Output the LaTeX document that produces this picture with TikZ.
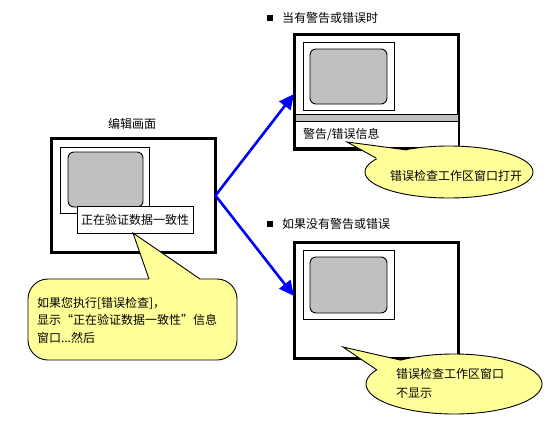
\documentclass[tikz,border=0pt]{standalone}
\usepackage{fontspec}
\usetikzlibrary{shapes.geometric,arrows.meta}
\newfontfamily\cjk{Noto Sans CJK SC}
\definecolor{callfill}{RGB}{255,255,153}
\definecolor{screengray}{RGB}{192,192,192}
\definecolor{arrowblue}{RGB}{0,0,255}
\begin{document}
\begin{tikzpicture}[x=1pt,y=-1pt,
  every node/.style={font=\cjk\fontsize{12}{17.5}\selectfont, inner sep=0pt, outer sep=0pt},
  thickbox/.style={draw, line width=2.4pt, fill=white, rectangle},
  thinbox/.style={draw, line width=0.9pt, fill=white, rectangle},
  screenbox/.style={draw, line width=0.9pt, fill=screengray, rectangle, rounded corners=6pt},
  graybar/.style={draw, line width=0.9pt, fill=screengray, rectangle},
  callbox/.style={draw, line width=0.9pt, fill=callfill},
  tailedge/.style={line width=0.9pt, line join=miter},
  flow/.style={draw=arrowblue, line width=2.6pt, -{Triangle[length=15pt,width=14pt]}},
  bullet/.style={fill=black, rectangle, minimum width=6pt, minimum height=6pt}]

\useasboundingbox (0,0) rectangle (553,423);

% ---- edit screen (left) ----
\node[anchor=center] (edittitle) at (132,124) {编辑画面};
\node[thickbox, minimum width=164, minimum height=114] (edit) at (133.5,195.5) {};
\node[thinbox, minimum width=89, minimum height=66] (editinner) at (104.5,180) {};
\node[screenbox, minimum width=75, minimum height=55] (editscreen) at (105.5,179.5) {};
\node[thinbox, minimum width=116, minimum height=27] (verify) at (135,219.5) {正在验证数据一致性};

% ---- box 1 (warnings/errors) ----
\node[bullet] (b1) at (270,18) {};
\node[anchor=west] (title1) at (282,18) {当有警告或错误时};
\node[thickbox, minimum width=164, minimum height=115] (box1) at (376.5,92) {};
\node[thinbox, minimum width=91, minimum height=68] (inner1) at (348.5,76) {};
\node[screenbox, minimum width=77, minimum height=55] (screen1) at (348.5,76.5) {};
\node[thinbox, minimum width=163, minimum height=33] (panel1) at (376.5,130.5) {};
\node[graybar, minimum width=163, minimum height=7] (bar1) at (376.5,117.5) {};
\node[anchor=west] (msg1) at (303,134) {警告/错误信息};

% ---- box 2 (no warnings) ----
\node[bullet] (b2) at (270,224) {};
\node[anchor=west] (title2) at (282,224) {如果没有警告或错误};
\node[thickbox, minimum width=164, minimum height=116] (box2) at (376.5,300.5) {};
\node[thinbox, minimum width=91, minimum height=69] (inner2) at (348.5,284.5) {};
\node[screenbox, minimum width=77, minimum height=56] (screen2) at (348.5,285) {};

% ---- arrows ----
\coordinate (fork) at (edit.east);
\coordinate (tip1) at (294,94);
\coordinate (tip2) at (294,296);
\draw[flow] (fork) -- (tip1);
\draw[flow] (fork) -- (tip2);

% ---- callout bottom-left ----
\node[callbox, rectangle, rounded corners=20pt, minimum width=209, minimum height=81] (call0) at (132.5,319.5) {};
\coordinate (c0tip) at (133,233);
\coordinate (c0a) at (149,279);
\coordinate (c0b) at (200,279);
\fill[callfill] (c0tip) -- (c0a) -- (151,285) -- (197,285) -- (c0b) -- cycle;
\draw[tailedge] (c0a) -- (c0tip) -- (c0b);
\node[anchor=west, align=left] (call0text) at (37,320) {如果您执行[错误检查]，\\显示“正在验证数据一致性”信息\\窗口...然后};

% ---- callout top-right ----
\node[callbox, ellipse, minimum width=168, minimum height=52] (call1) at (449,172) {};
\coordinate (c1tip) at (347,142);
\coordinate (c1a) at (376,158);
\coordinate (c1b) at (407,150);
\fill[callfill] (c1tip) -- (c1a) -- (382,162) -- (409,156) -- (c1b) -- cycle;
\draw[tailedge] (c1a) -- (c1tip) -- (c1b);
\node (call1text) at (456,176) {错误检查工作区窗口打开};

% ---- callout bottom-right ----
\node[callbox, ellipse, minimum width=176, minimum height=60] (call2) at (454,384) {};
\coordinate (c2tip) at (343,347);
\coordinate (c2a) at (377,370);
\coordinate (c2b) at (400,360);
\fill[callfill] (c2tip) -- (c2a) -- (383,373) -- (403,365) -- (c2b) -- cycle;
\draw[tailedge] (c2a) -- (c2tip) -- (c2b);
\node[anchor=west, align=left, font=\cjk\fontsize{12}{19}\selectfont] (call2text) at (396,383) {错误检查工作区窗口\\不显示};

\end{tikzpicture}
\end{document}
